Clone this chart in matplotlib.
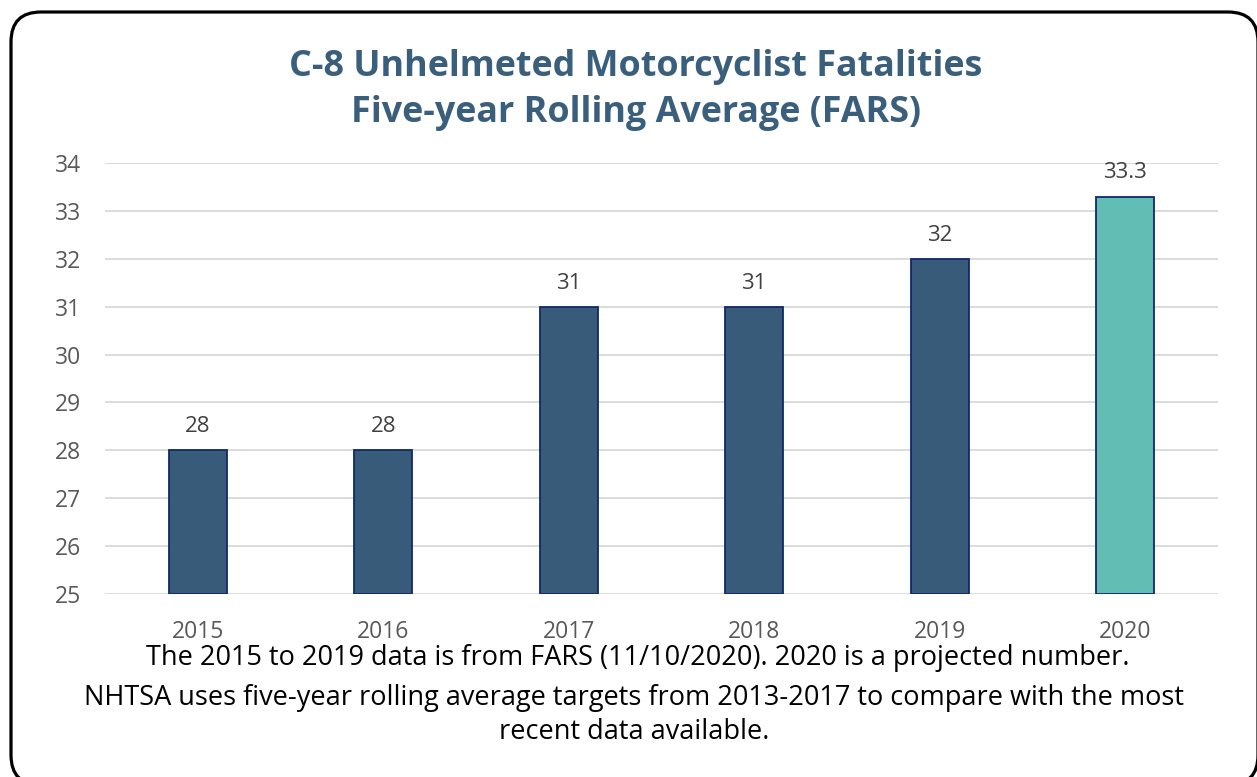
import matplotlib
matplotlib.use("Agg")
import matplotlib.pyplot as plt
from matplotlib.patches import FancyBboxPatch

years = ["2015", "2016", "2017", "2018", "2019", "2020"]
values = [28, 28, 31, 31, 32, 33.3]
labels = ["28", "28", "31", "31", "32", "33.3"]
yticks = [25, 26, 27, 28, 29, 30, 31, 32, 33, 34]

title = "C-8 Unhelmeted Motorcyclist Fatalities\nFive-year Rolling Average (FARS)"
note1 = "The 2015 to 2019 data is from FARS (11/10/2020). 2020 is a projected number."
note2 = "NHTSA uses five-year rolling average targets from 2013-2017 to compare with the most\nrecent data available."

W, H = 1257, 777
fig = plt.figure(figsize=(W / 100, H / 100), dpi=100)
fig.patch.set_facecolor("white")

# pixel-coordinate background axes for the rounded border (y measured upward)
bg = fig.add_axes([0, 0, 1, 1])
bg.set_xlim(0, W)
bg.set_ylim(0, H)
bg.axis("off")
left, top, right, bottom = 11, 12, 1258, 785
border = FancyBboxPatch((left, H - bottom), right - left, bottom - top,
                        boxstyle="round,pad=0,rounding_size=30",
                        fill=False, edgecolor="black", linewidth=2.3,
                        clip_on=False)
bg.add_patch(border)

ax = fig.add_axes([105 / W, 1 - 594 / H, (1218 - 105) / W, (594 - 163) / H])
colors = ["#375B78"] * 5 + ["#62BDB5"]
x = list(range(len(years)))
ax.bar(x, [v - 25 for v in values], bottom=25, width=0.31,
       color=colors, edgecolor="#10296B", linewidth=1.3, zorder=3)
ax.set_xlim(-0.5, len(years) - 0.5)
ax.set_ylim(25, 34)
ax.set_yticks(yticks)
ax.set_xticks(x)
ax.set_xticklabels(years)
ax.grid(axis="y", color="#D9D9D9", linewidth=1.3, zorder=0)
ax.set_facecolor("none")
for s in ax.spines.values():
    s.set_visible(False)
ax.tick_params(axis="both", length=0, labelsize=16.5, labelcolor="#595959")
ax.tick_params(axis="y", pad=17)
ax.tick_params(axis="x", pad=18.5)
for lab in ax.get_xticklabels() + ax.get_yticklabels():
    lab.set_fontfamily("Open Sans")

for xi, v, t in zip(x, values, labels):
    ax.annotate(t, (xi, v), xytext=(0, 17), textcoords="offset points",
                ha="center", va="center", fontsize=16, color="#404040",
                family="Open Sans")

fig.text(636 / W, 1 - 90 / H, title, ha="center", va="center",
         fontsize=25.8, fontweight="bold", color="#3A5F7C", family="Open Sans",
         linespacing=1.35)
fig.text(638 / W, 1 - 658 / H, note1, ha="center", va="center",
         fontsize=19.5, color="black", family="Open Sans")
fig.text(634 / W, 1 - 715 / H, note2, ha="center", va="center",
         fontsize=19.5, color="black", family="Open Sans", linespacing=1.3)

fig.savefig("out.png", dpi=100)
